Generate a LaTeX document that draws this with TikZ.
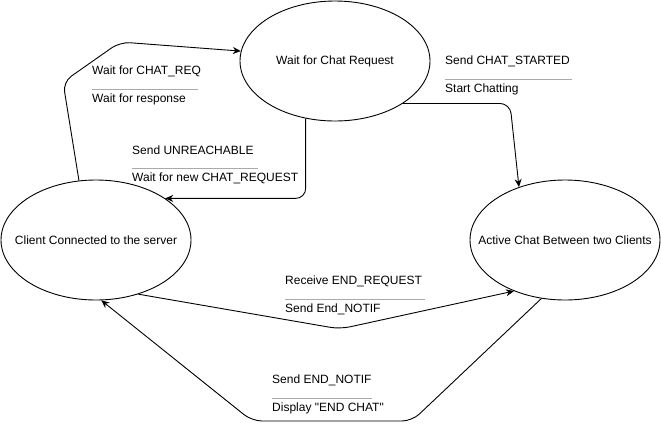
\documentclass[tikz,border=0pt]{standalone}
\usepackage{fontspec}
\setmainfont{Liberation Sans}[Ligatures=TeXOff]
\usetikzlibrary{arrows.meta,shapes.geometric,calc}
\definecolor{sepgray}{RGB}{170,170,170}
\begin{document}
\begin{tikzpicture}[x=1pt,y=-1pt,
  st/.style={draw, ellipse, minimum width=190pt, minimum height=120pt, inner sep=0pt, line width=0.9pt,
    label={[font=\fontsize{12}{14}\selectfont]center:#1}},
  conn/.style={draw, line width=0.9pt, rounded corners=10pt, -{Stealth[length=8pt,width=7pt]}},
  lbl/.style={anchor=west, inner sep=0pt, text height=8.6pt, text depth=0pt, font=\fontsize{12}{14}\selectfont},
  sepline/.style={draw=sepgray, line width=1pt}
]
\useasboundingbox (0,0) rectangle (661,429);

% states
\node[st={Wait for Chat Request}] (w) at (335,61) {};
\node[st={Client Connected to the server}] (c) at (96,240) {};
\node[st={Active Chat Between two Clients}] (e) at (565,240) {};

% corner coordinates
\coordinate (k1a) at (63,82);
\coordinate (k1b) at (120,42);
\coordinate (k3) at (510,0);
\coordinate (k4) at (340,329);
\coordinate (k5a) at (412,421);
\coordinate (k5b) at (252,421);

% connectors
\draw[conn] (c.106) -- (k1a) -- (k1b) -- (w.174);
\draw[conn] (w.243) |- (c.31);
\draw[conn] (w.-32) -- (w.-32 -| k3) -- (e.131);
\draw[conn] (c.-52) -- (k4) -- (e.225);
\draw[conn] (e.248) -- (k5a) -- (k5b) -- (c.-85);

% labels
\node[lbl] (l1a) at (92,70) {Wait for CHAT\_REQ};
\node[lbl] (l1b) at (92,98) {Wait for response};
\draw[sepline] (92,89) -- (198,89);

\node[lbl] (l2a) at (132,150) {Send UNREACHABLE};
\node[lbl] (l2b) at (132,177) {Wait for new CHAT\_REQUEST};
\draw[sepline] (132,168) -- (258,168);

\node[lbl] (l3a) at (445,60) {Send CHAT\_STARTED};
\node[lbl] (l3b) at (445,88) {Start Chatting};
\draw[sepline] (445,79) -- (572,79);

\node[lbl] (l4a) at (285,280) {Receive END\_REQUEST};
\node[lbl] (l4b) at (285,308) {Send End\_NOTIF};
\draw[sepline] (285,299) -- (425,299);

\node[lbl] (l5a) at (272,379) {Send END\_NOTIF};
\node[lbl] (l5b) at (272,407) {Display "END CHAT"};
\draw[sepline] (272,398) -- (372,398);
\end{tikzpicture}
\end{document}
